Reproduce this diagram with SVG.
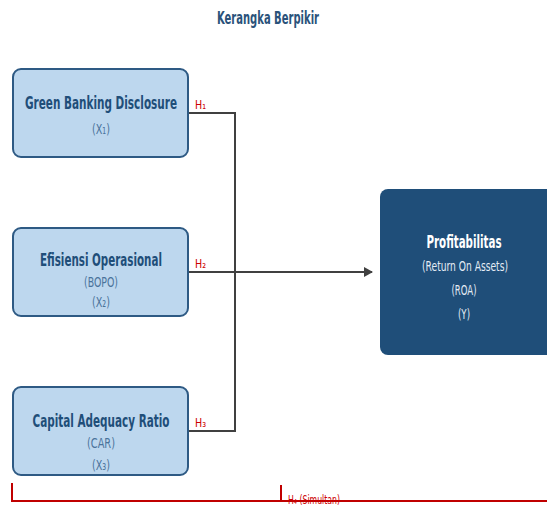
<svg xmlns="http://www.w3.org/2000/svg" width="547" height="506" viewBox="0 0 547 506">
<style>
.t{font-family:"DejaVu Sans",sans-serif;text-anchor:middle}
.title{font-size:18px;font-weight:bold;fill:#2a527a}
.nb{font-size:17px;font-weight:bold;fill:#1f4e79}
.ns{font-size:14px;fill:#4a739b}
.wb{font-size:17px;font-weight:bold;fill:#ffffff}
.ws{font-size:14px;fill:#e4ecf5}
.box{fill:#bdd7ee;stroke:#2e5a84;stroke-width:2}
.dark{fill:#1f4e79}
.con{fill:none;stroke:#404040;stroke-width:2}
.h{font-family:"DejaVu Sans",sans-serif;font-size:12px;fill:#cc0000}
.red{fill:none;stroke:#c00000;stroke-width:2}
</style>
<defs>
<marker id="arr" markerWidth="10" markerHeight="10" refX="8" refY="5" orient="auto" markerUnits="userSpaceOnUse">
<path d="M0,0 L9,5 L0,10 z" fill="#404040"/>
</marker>
</defs>
<text class="t title" x="268" y="24" textLength="102" lengthAdjust="spacingAndGlyphs">Kerangka Berpikir</text>
<g id="connectors">
<path class="con" d="M188,113 H235 V431 H188"/>
<path class="con" d="M188,272 H372" marker-end="url(#arr)"/>
<path class="red" d="M12,483 V501 H547"/>
<path class="red" d="M281,485 V501"/>
<text class="h" x="195" y="109" textLength="11" lengthAdjust="spacingAndGlyphs">H₁</text>
<text class="h" x="195" y="268" textLength="11" lengthAdjust="spacingAndGlyphs">H₂</text>
<text class="h" x="195" y="427" textLength="11" lengthAdjust="spacingAndGlyphs">H₃</text>
<text class="h" x="288" y="504" textLength="52" lengthAdjust="spacingAndGlyphs">H₄ (Simultan)</text>
</g>
<g id="x1">
<rect class="box" x="13" y="69" width="175" height="88" rx="8"/>
<text class="t nb" x="101" y="109" textLength="152" lengthAdjust="spacingAndGlyphs">Green Banking Disclosure</text>
<text class="t ns" x="101" y="134" textLength="18" lengthAdjust="spacingAndGlyphs">(X₁)</text>
</g>
<g id="x2">
<rect class="box" x="13" y="228" width="175" height="88" rx="8"/>
<text class="t nb" x="101" y="266" textLength="122" lengthAdjust="spacingAndGlyphs">Efisiensi Operasional</text>
<text class="t ns" x="101" y="287" textLength="34" lengthAdjust="spacingAndGlyphs">(BOPO)</text>
<text class="t ns" x="101" y="307" textLength="18" lengthAdjust="spacingAndGlyphs">(X₂)</text>
</g>
<g id="x3">
<rect class="box" x="13" y="387" width="175" height="88" rx="8"/>
<text class="t nb" x="101" y="427" textLength="137" lengthAdjust="spacingAndGlyphs">Capital Adequacy Ratio</text>
<text class="t ns" x="101" y="448" textLength="28" lengthAdjust="spacingAndGlyphs">(CAR)</text>
<text class="t ns" x="101" y="470" textLength="18" lengthAdjust="spacingAndGlyphs">(X₃)</text>
</g>
<g id="y">
<path class="dark" d="M388,189 H547 V355 H388 A8,8 0 0 1 380,347 V197 A8,8 0 0 1 388,189 Z"/>
<text class="t wb" x="464" y="248" textLength="75" lengthAdjust="spacingAndGlyphs">Profitabilitas</text>
<text class="t ws" x="465" y="271" textLength="86" lengthAdjust="spacingAndGlyphs">(Return On Assets)</text>
<text class="t ws" x="464" y="295" textLength="25" lengthAdjust="spacingAndGlyphs">(ROA)</text>
<text class="t ws" x="464" y="319" textLength="12" lengthAdjust="spacingAndGlyphs">(Y)</text>
</g>
</svg>
